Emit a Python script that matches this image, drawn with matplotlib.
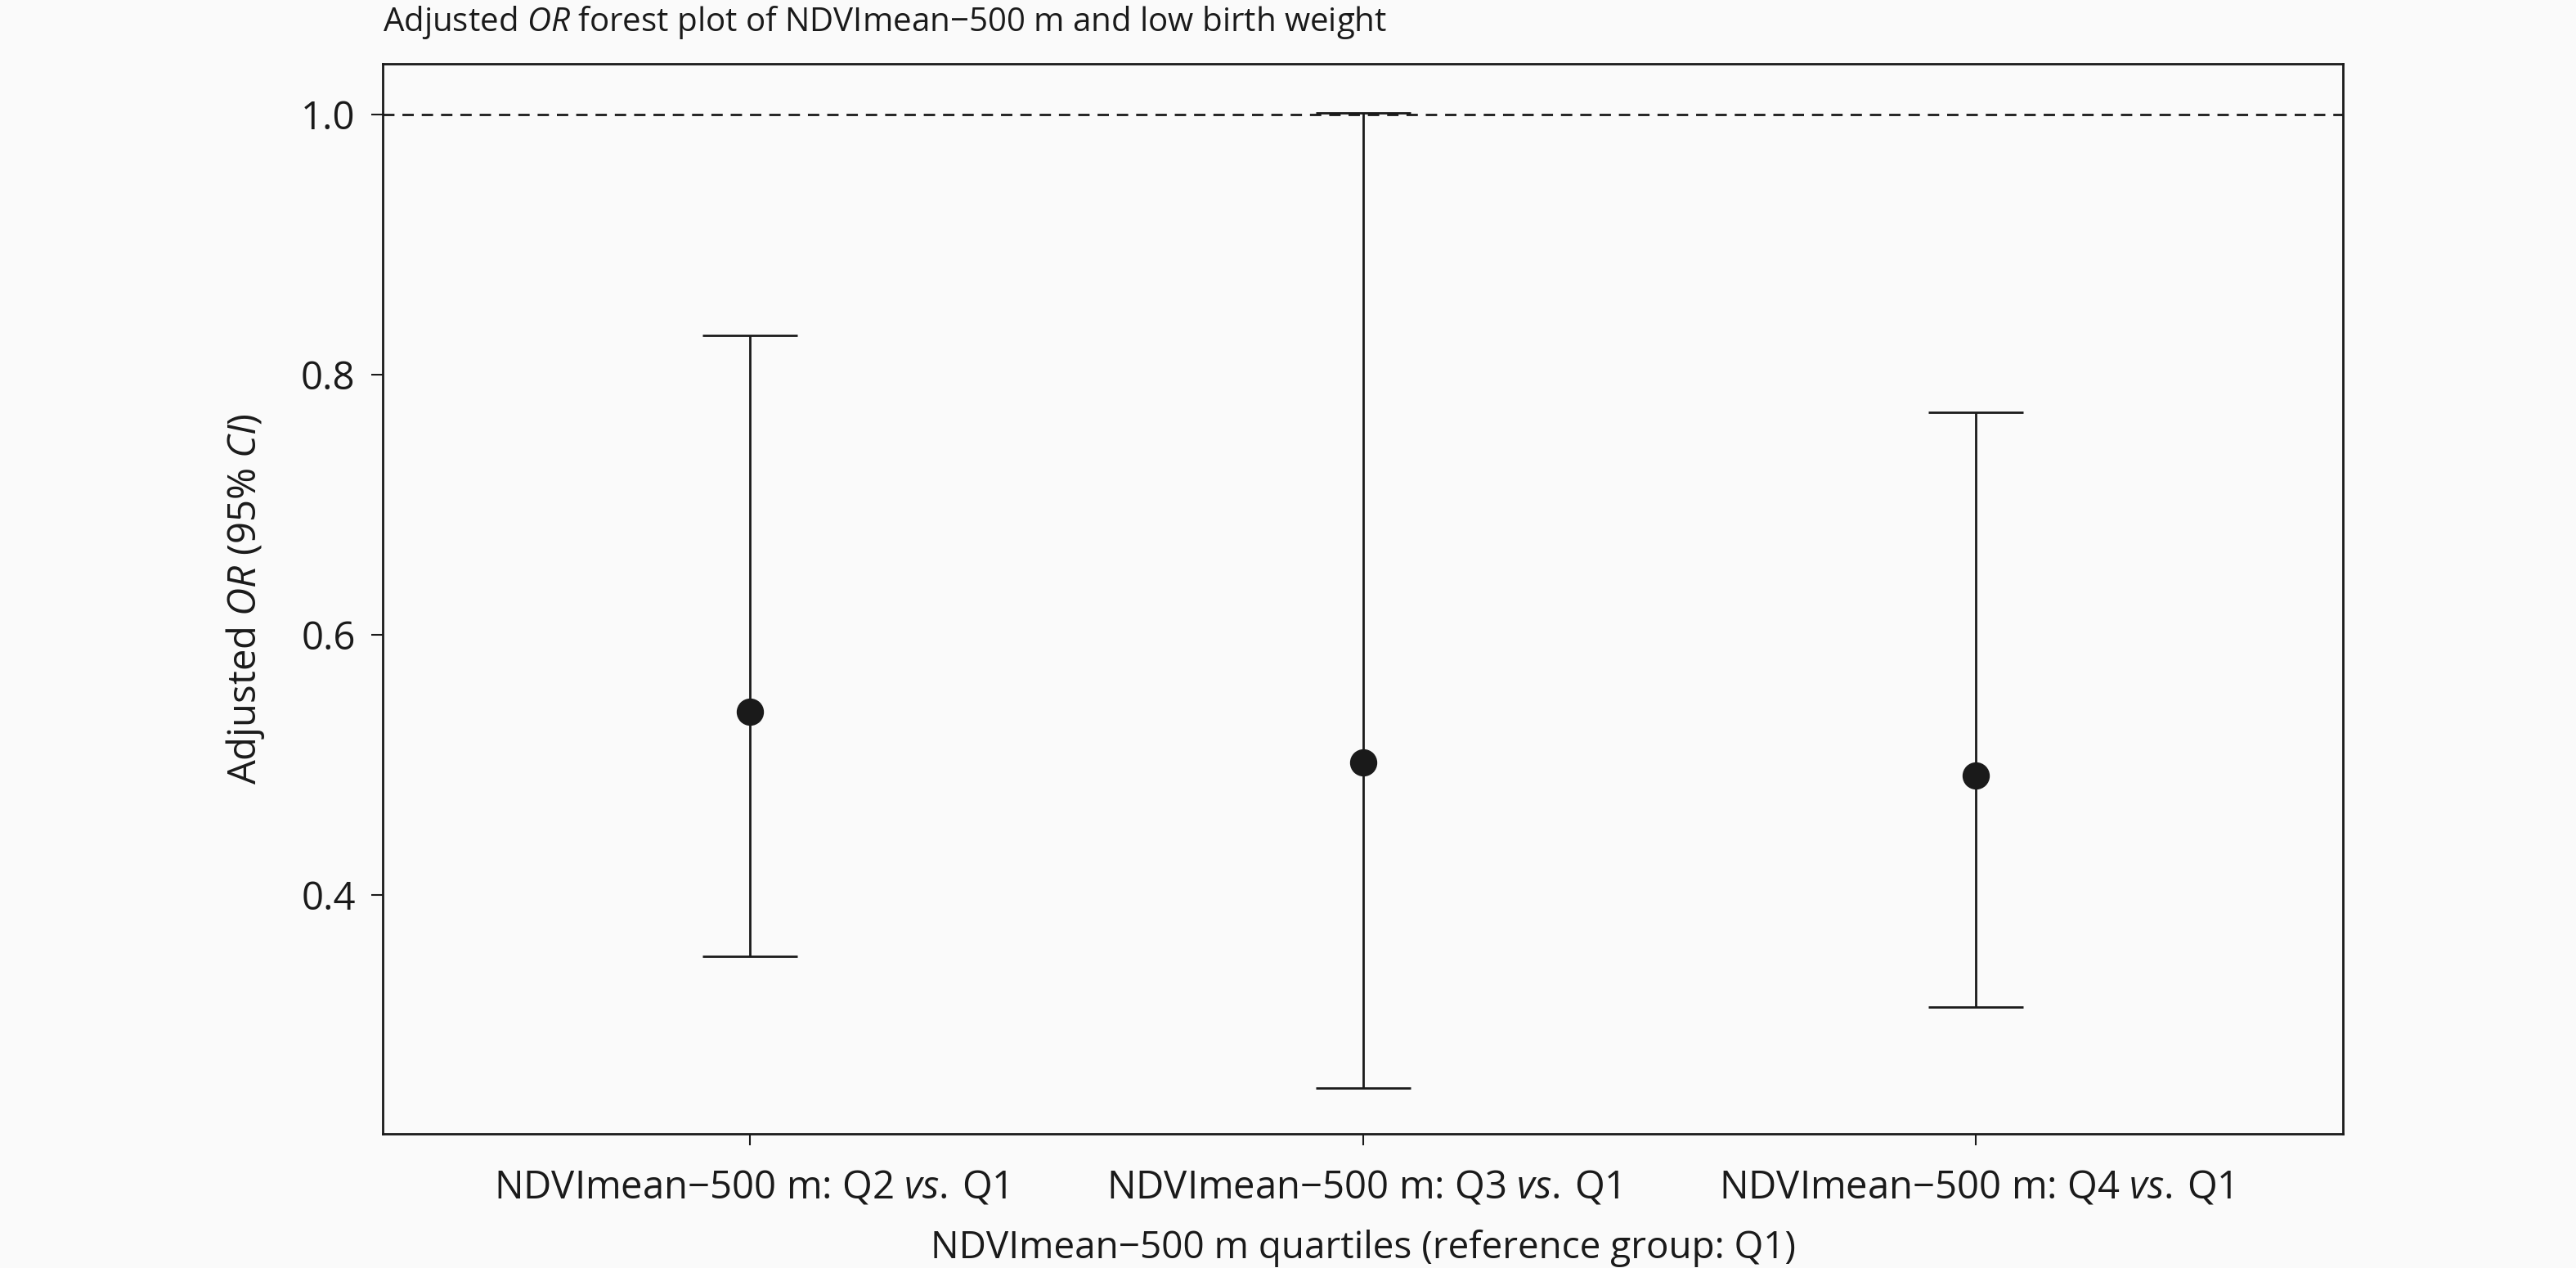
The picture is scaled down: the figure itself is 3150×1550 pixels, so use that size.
import matplotlib
matplotlib.use("Agg")
import matplotlib.pyplot as plt

# odds ratios
groups = ["Q2", "Q3", "Q4"]
or_est = [0.541, 0.502, 0.492]
ci_low = [0.353, 0.252, 0.314]
ci_high = [0.830, 1.001, 0.771]

tick_labels = [f"NDVImean\u2212500 m: {g} $\\it{{vs.}}$\u2009Q1" for g in groups]

plt.rcParams["font.family"] = ["Open Sans", "DejaVu Sans"]
plt.rcParams["mathtext.fontset"] = "custom"
plt.rcParams["mathtext.rm"] = "Open Sans"
plt.rcParams["mathtext.it"] = "Open Sans:italic"

ink = "#1a1a1a"
bg = "#fafafa"

fig = plt.figure(figsize=(31.5, 15.5), dpi=100, facecolor=bg)
W, H = 3150, 1550
ax = fig.add_axes([468 / W, 1 - 1386 / H, (2865 - 468) / W, (1386 - 78) / H])
ax.set_facecolor(bg)

x = list(range(1, len(groups) + 1))
yerr = [[e - l for e, l in zip(or_est, ci_low)],
        [h - e for e, h in zip(or_est, ci_high)]]
ax.errorbar(x, or_est, yerr=yerr, fmt="o", color=ink, ecolor=ink,
            elinewidth=2.0, capsize=42, capthick=2.0, markersize=23, zorder=3)

ax.axhline(1.0, color=ink, lw=2.0, ls=(0, (5, 3.5)), zorder=1)

ax.set_xlim(0.4, 3.6)
ax.set_ylim(0.2165, 1.039)
ax.set_yticks([0.4, 0.6, 0.8, 1.0])
ax.set_yticklabels(["0.4", "0.6", "0.8", "1.0"])
ax.set_xticks(x)
ax.set_xticklabels(tick_labels)

ax.tick_params(axis="both", direction="out", length=10, width=1.5, colors=ink,
               labelsize=34, pad=14)
ax.tick_params(axis="x", pad=20)
for side in ["left", "right", "top", "bottom"]:
    ax.spines[side].set_color(ink)
    ax.spines[side].set_linewidth(2.0)

ax.set_ylabel("Adjusted $\\it{OR}$ (95% $\\it{CI}$)", fontsize=34, color=ink, labelpad=30)
ax.set_xlabel("NDVImean\u2212500 m quartiles (reference group: Q1)", fontsize=33,
              color=ink, labelpad=20)

fig.text(468 / W, 1 - 28 / H, "Adjusted $\\it{OR}$ forest plot of NDVImean\u2212500 m and low birth weight",
         fontsize=29, color=ink, ha="left", va="center")

fig.savefig("out.png", dpi=100, facecolor=bg)
